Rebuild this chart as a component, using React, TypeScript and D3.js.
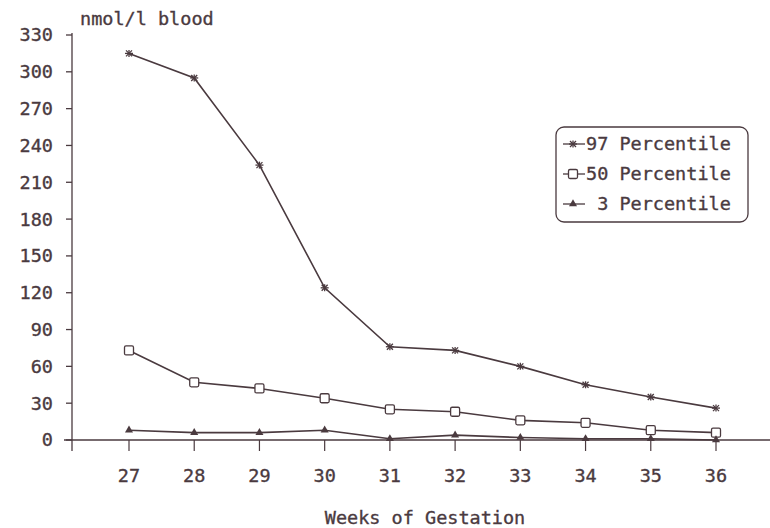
import React from "react";
import * as d3 from "d3";

// weeks of gestation
const weeks = [27, 28, 29, 30, 31, 32, 33, 34, 35, 36];
// nmol/l blood
const p97 = [315, 295, 224, 124, 76, 73, 60, 45, 35, 26];
const p50 = [73, 47, 42, 34, 25, 23, 16, 14, 8, 6];
const p3 = [8, 6, 6, 8, 1, 4, 2, 1, 1, 0];
const yTicks = [0, 30, 60, 90, 120, 150, 180, 210, 240, 270, 300, 330];
const legendLabels = ["97 Percentile", "50 Percentile", " 3 Percentile"];

const W = 770;
const H = 528;
const ink = "#4a3a3f";
const font = "'DejaVu Sans Mono', 'Liberation Mono', monospace";
const fs = 18.5;

export default function App() {
  const x = d3.scaleLinear().domain([27, 36]).range([129, 716]);
  const y = d3.scaleLinear().domain([0, 330]).range([440, 35]);
  const line = d3.line<number>()
    .x((_, i) => x(weeks[i]))
    .y(d => y(d));

  const star = (cx: number, cy: number, k: string) => (
    <g key={k} transform={`translate(${cx},${cy})`} stroke={ink} strokeWidth={1.3}>
      <line x1={-4} y1={0} x2={4} y2={0} />
      <line x1={0} y1={-3.5} x2={0} y2={3.5} />
      <line x1={-3} y1={-3} x2={3} y2={3} />
      <line x1={-3} y1={3} x2={3} y2={-3} />
    </g>
  );
  const square = (cx: number, cy: number, k: string) => (
    <rect key={k} x={cx - 4.5} y={cy - 4.5} width={9} height={9} rx={1.5}
      fill="#fff" stroke={ink} strokeWidth={1.3} />
  );
  const tri = (cx: number, cy: number, k: string) => (
    <path key={k} d={d3.symbol(d3.symbolTriangle, 28)() || ""}
      transform={`translate(${cx},${cy})`} fill={ink} />
  );

  const series = [
    { vals: p97, mark: star },
    { vals: p50, mark: square },
    { vals: p3, mark: tri },
  ];

  const txt = { fontSize: fs, stroke: ink, strokeWidth: 0.35 };

  return (
    <svg width={W} height={H} style={{ position: "fixed", left: 0, top: 0, background: "#fff" }}
      fontFamily={font} fill={ink}>
      {/* y axis */}
      <line x1={72} y1={33} x2={72} y2={451} stroke={ink} strokeWidth={1.3} />
      {yTicks.map(t => (
        <g key={t}>
          <line x1={66} x2={72} y1={y(t)} y2={y(t)} stroke={ink} strokeWidth={1.3} />
          <text x={53} y={y(t)} dy="0.35em" textAnchor="end" {...txt}>{t}</text>
        </g>
      ))}
      <text x={80} y={25} {...txt}>nmol/l blood</text>

      {/* x axis */}
      <line x1={64} y1={y(0)} x2={770} y2={y(0)} stroke={ink} strokeWidth={1.3} />
      {weeks.map(w => (
        <g key={w}>
          <line x1={x(w)} x2={x(w)} y1={y(0)} y2={y(0) + 11} stroke={ink} strokeWidth={1.2} />
          <text x={x(w)} y={482} textAnchor="middle" {...txt}>{w}</text>
        </g>
      ))}
      <text x={425} y={524} textAnchor="middle" {...txt}>Weeks of Gestation</text>

      {/* series */}
      {series.map((s, si) => (
        <g key={si}>
          <path d={line(s.vals) || ""} fill="none" stroke={ink} strokeWidth={1.6} />
          {s.vals.map((v, i) => s.mark(x(weeks[i]), y(v), `${si}-${i}`))}
        </g>
      ))}

      {/* legend */}
      <rect x={556} y={127} width={192} height={95} rx={8} fill="#fff" stroke={ink} strokeWidth={1.3} />
      {legendLabels.map((lab, i) => {
        const ly = 144 + i * 30;
        return (
          <g key={lab}>
            <line x1={563} x2={585} y1={ly} y2={ly} stroke={ink} strokeWidth={1.3} />
            {series[i].mark(573, ly, `lg-${i}`)}
            <text x={586} y={ly} dy="0.35em" {...txt} style={{ whiteSpace: "pre" }}>{lab}</text>
          </g>
        );
      })}
    </svg>
  );
}
